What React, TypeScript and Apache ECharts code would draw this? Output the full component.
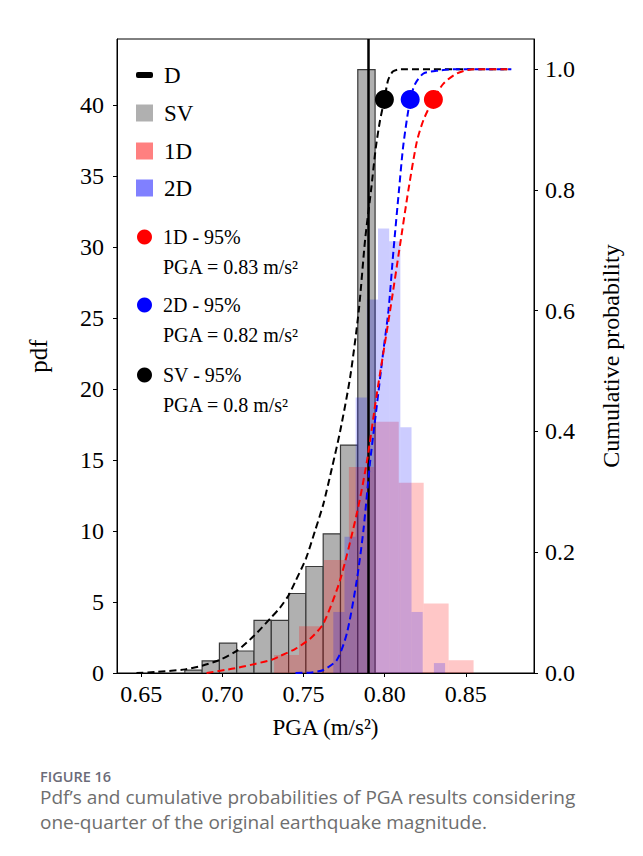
import React, { useEffect, useRef } from "react";
import * as echarts from "echarts";

// ---------- data ----------
const X_TICKS = [0.65, 0.7, 0.75, 0.8, 0.85];
const PDF_TICKS = [0, 5, 10, 15, 20, 25, 30, 35, 40];
const CDF_TICKS = [0, 0.2, 0.4, 0.6, 0.8, 1.0];

const SV_BIN_START = 0.6768;
const SV_BIN_WIDTH = 0.01066;
const SV_HEIGHTS = [0.2, 0.85, 2.1, 1.55, 3.7, 3.7, 5.6, 7.5, 9.8, 16.05, 42.5];

const D1_BIN_START = 0.7318;
const D1_BIN_WIDTH = 0.01537;
const D1_HEIGHTS = [1.27, 3.3, 7.96, 14.5, 17.7, 13.4, 4.9, 0.9];

const D2_BIN_START = 0.7683;
const D2_BIN_WIDTH = 0.00689;
const D2_HEIGHTS = [4.3, 9.6, 19.4, 26.3, 31.3, 30.4, 17.3, 4.3, 0, 0.7];

const D_VALUE = 0.79;

const SV_CDF_X = [0.647, 0.66, 0.677, 0.6875, 0.6985, 0.709, 0.7196, 0.73, 0.7354, 0.7406, 0.745, 0.7515, 0.757, 0.7622, 0.7675, 0.7725, 0.7787, 0.784, 0.788, 0.7916, 0.7945, 0.7971, 0.7998, 0.8021, 0.805, 0.8095, 0.878];
const SV_CDF_Y = [0, 0.002, 0.006, 0.012, 0.022, 0.037, 0.062, 0.092, 0.108, 0.128, 0.152, 0.19, 0.235, 0.28, 0.34, 0.4, 0.49, 0.6, 0.72, 0.8, 0.87, 0.915, 0.95, 0.982, 0.996, 1.0, 1.0];

const D1_CDF_X = [0.6902, 0.7015, 0.71, 0.72, 0.7304, 0.7354, 0.745, 0.7545, 0.7622, 0.7725, 0.7828, 0.789, 0.795, 0.8033, 0.8095, 0.8146, 0.8198, 0.8239, 0.83, 0.8362, 0.8445, 0.8548, 0.878];
const D1_CDF_Y = [0, 0.005, 0.009, 0.015, 0.022, 0.028, 0.04, 0.058, 0.082, 0.154, 0.264, 0.35, 0.46, 0.6, 0.71, 0.8, 0.88, 0.916, 0.95, 0.976, 0.993, 1.0, 1.0];

const D2_CDF_X = [0.745, 0.755, 0.7622, 0.7705, 0.7767, 0.7828, 0.7869, 0.791, 0.795, 0.799, 0.8023, 0.8054, 0.8088, 0.8115, 0.8157, 0.8188, 0.824, 0.8342, 0.842, 0.878];
const D2_CDF_Y = [0, 0.001, 0.005, 0.0215, 0.066, 0.154, 0.237, 0.35, 0.44, 0.53, 0.6, 0.7, 0.8, 0.875, 0.95, 0.976, 0.993, 0.998, 1.0, 1.0];

const P95_LEVEL = 0.95;
const P95_NAMES = ["SV", "2D", "1D"];
const P95_X = [0.7998, 0.8157, 0.83];
const P95_PGA = ["0.8", "0.82", "0.83"];

const COLORS: Record<string, string> = { SV: "#000000", "2D": "#0000ff", "1D": "#ff0000" };

const SERIF = "Liberation Serif, Times New Roman, serif";

function pairs(xs: number[], ys: number[]) {
  return xs.map((x, i) => [x, ys[i]]);
}

function histSeries(name: string, start: number, width: number, heights: number[], style: any, z: number) {
  return {
    type: "custom",
    name,
    z,
    clip: true,
    renderItem: (_params: any, api: any) => {
      const x0 = api.value(0);
      const x1 = api.value(1);
      const h = api.value(2);
      if (!(h > 0)) return null;
      const p0 = api.coord([x0, h]);
      const p1 = api.coord([x1, 0]);
      return {
        type: "rect",
        shape: { x: p0[0], y: p0[1], width: p1[0] - p0[0], height: p1[1] - p0[1] },
        style,
      };
    },
    encode: { x: [0, 1], y: 2 },
    data: heights.map((h, i) => [start + i * width, start + (i + 1) * width, h]),
  };
}

export default function App() {
  const ref = useRef<HTMLDivElement>(null);

  useEffect(() => {
    if (!ref.current) return;
    const chart = echarts.init(ref.current, undefined, { renderer: "svg" });

    const legendItems = [
      { name: "D", color: "#000000", kind: "line" },
      { name: "SV", color: "#b0b0b0", kind: "box" },
      { name: "1D", color: "#ff8080", kind: "box" },
      { name: "2D", color: "#8080ff", kind: "box" },
    ];
    const legendY = [75, 113, 151, 188];

    const graphics: any[] = [];
    legendItems.forEach((it, i) => {
      const cy = legendY[i];
      if (it.kind === "line") {
        graphics.push({ type: "rect", shape: { x: 136, y: cy - 3, width: 17, height: 6, r: 2 }, style: { fill: it.color } });
      } else {
        graphics.push({ type: "rect", shape: { x: 136, y: cy - 8.5, width: 17, height: 17 }, style: { fill: it.color } });
      }
      graphics.push({
        type: "text",
        x: 164,
        y: cy,
        style: { text: it.name, font: `23px ${SERIF}`, fill: "#000", textVerticalAlign: "middle" },
      });
    });

    const annOrder = ["1D", "2D", "SV"];
    const annY = [237, 305, 375];
    annOrder.forEach((n, i) => {
      const idx = P95_NAMES.indexOf(n);
      const cy = annY[i];
      graphics.push({ type: "circle", shape: { cx: 144.5, cy, r: 7.5 }, style: { fill: COLORS[n] } });
      graphics.push({
        type: "text",
        x: 163,
        y: cy,
        style: { text: `${n} - 95%`, font: `20px ${SERIF}`, fill: "#000", textVerticalAlign: "middle" },
      });
      graphics.push({
        type: "text",
        x: 163,
        y: cy + 30,
        style: { text: `PGA = ${P95_PGA[idx]} m/s\u00b2`, font: `20px ${SERIF}`, fill: "#000", textVerticalAlign: "middle" },
      });
    });

    graphics.push({
      type: "text",
      x: 40,
      y: 776,
      style: { text: "FIGURE 16", font: `600 14.5px "Open Sans", sans-serif`, fill: "#6b6b78", textVerticalAlign: "middle" },
    });
    graphics.push({
      type: "text",
      x: 40,
      y: 797,
      style: { text: "Pdf\u2019s and cumulative probabilities of PGA results considering", font: `19px "Open Sans", sans-serif`, fill: "#6e6e6e", textVerticalAlign: "middle" },
    });
    graphics.push({
      type: "text",
      x: 40,
      y: 822,
      style: { text: "one-quarter of the original earthquake magnitude.", font: `19px "Open Sans", sans-serif`, fill: "#6e6e6e", textVerticalAlign: "middle" },
    });

    const axisText = { fontFamily: SERIF, fontSize: 24, color: "#000" };

    const option: any = {
      animation: false,
      backgroundColor: "#ffffff",
      grid: { left: 117, right: 109, top: 39, bottom: 183, show: true, borderColor: "#000", borderWidth: 1, backgroundColor: "transparent" },
      xAxis: {
        type: "value",
        min: 0.635,
        max: 0.892,
        name: "PGA (m/s\u00b2)",
        nameLocation: "middle",
        nameGap: 43,
        nameTextStyle: { fontFamily: SERIF, fontSize: 23, color: "#000" },
        axisLine: { show: true, lineStyle: { color: "#000", width: 1 } },
        axisTick: { show: true, inside: false, length: 4, customValues: X_TICKS, lineStyle: { color: "#000" } },
        axisLabel: { customValues: X_TICKS, margin: 9, formatter: (v: number) => v.toFixed(2), ...axisText },
        splitLine: { show: false },
      },
      yAxis: [
        {
          type: "value",
          position: "left",
          min: 0,
          max: 44.65,
          name: "pdf",
          nameLocation: "middle",
          nameGap: 66,
          nameTextStyle: { fontFamily: SERIF, fontSize: 25, color: "#000" },
          axisLine: { show: true, lineStyle: { color: "#000", width: 1 } },
          axisTick: { show: true, inside: false, length: 4, customValues: PDF_TICKS, lineStyle: { color: "#000" } },
          axisLabel: { customValues: PDF_TICKS, margin: 13, ...axisText },
          splitLine: { show: false },
        },
        {
          type: "value",
          position: "right",
          min: 0,
          max: 1.05,
          name: "Cumulative probability",
          nameLocation: "middle",
          nameGap: 65,
          nameTextStyle: { fontFamily: SERIF, fontSize: 24, color: "#000" },
          axisLine: { show: true, lineStyle: { color: "#000", width: 1 } },
          axisTick: { show: true, inside: false, length: 4, customValues: CDF_TICKS, lineStyle: { color: "#000" } },
          axisLabel: { customValues: CDF_TICKS, margin: 11, formatter: (v: number) => v.toFixed(1), ...axisText },
          splitLine: { show: false },
        },
      ],
      series: [
        histSeries("SV", SV_BIN_START, SV_BIN_WIDTH, SV_HEIGHTS, { fill: "#b0b0b0", stroke: "#3a3a3a", lineWidth: 1.2 }, 2),
        histSeries("1D", D1_BIN_START, D1_BIN_WIDTH, D1_HEIGHTS, { fill: "rgba(255,0,0,0.22)" }, 3),
        histSeries("2D", D2_BIN_START, D2_BIN_WIDTH, D2_HEIGHTS, { fill: "rgba(0,0,255,0.2)" }, 4),
        {
          type: "line",
          name: "D",
          data: [],
          z: 5,
          markLine: {
            silent: true,
            symbol: "none",
            label: { show: false },
            lineStyle: { color: "#000", width: 2.5, type: "solid" },
            data: [{ xAxis: D_VALUE }],
          },
        },
        {
          type: "line",
          name: "SV CDF",
          yAxisIndex: 1,
          data: pairs(SV_CDF_X, SV_CDF_Y),
          showSymbol: false,
          smooth: 0.25,
          z: 6,
          lineStyle: { color: "#000", width: 2, type: [7, 4] },
        },
        {
          type: "line",
          name: "2D CDF",
          yAxisIndex: 1,
          data: pairs(D2_CDF_X, D2_CDF_Y),
          showSymbol: false,
          smooth: 0.25,
          z: 6,
          lineStyle: { color: "#0000ff", width: 2, type: [7, 4] },
        },
        {
          type: "line",
          name: "1D CDF",
          yAxisIndex: 1,
          data: pairs(D1_CDF_X, D1_CDF_Y),
          showSymbol: false,
          smooth: 0.25,
          z: 6,
          lineStyle: { color: "#ff0000", width: 2, type: [7, 4] },
        },
        {
          type: "scatter",
          name: "95%",
          yAxisIndex: 1,
          z: 7,
          symbolSize: 19,
          data: P95_X.map((x, i) => ({ value: [x, P95_LEVEL], itemStyle: { color: COLORS[P95_NAMES[i]], opacity: 1 } })),
        },
      ],
      graphic: graphics,
    };

    chart.setOption(option);
    return () => chart.dispose();
  }, []);

  return (
    <div
      ref={ref}
      style={{ position: "fixed", left: 0, top: 0, width: 643, height: 856, background: "#fff" }}
    />
  );
}
